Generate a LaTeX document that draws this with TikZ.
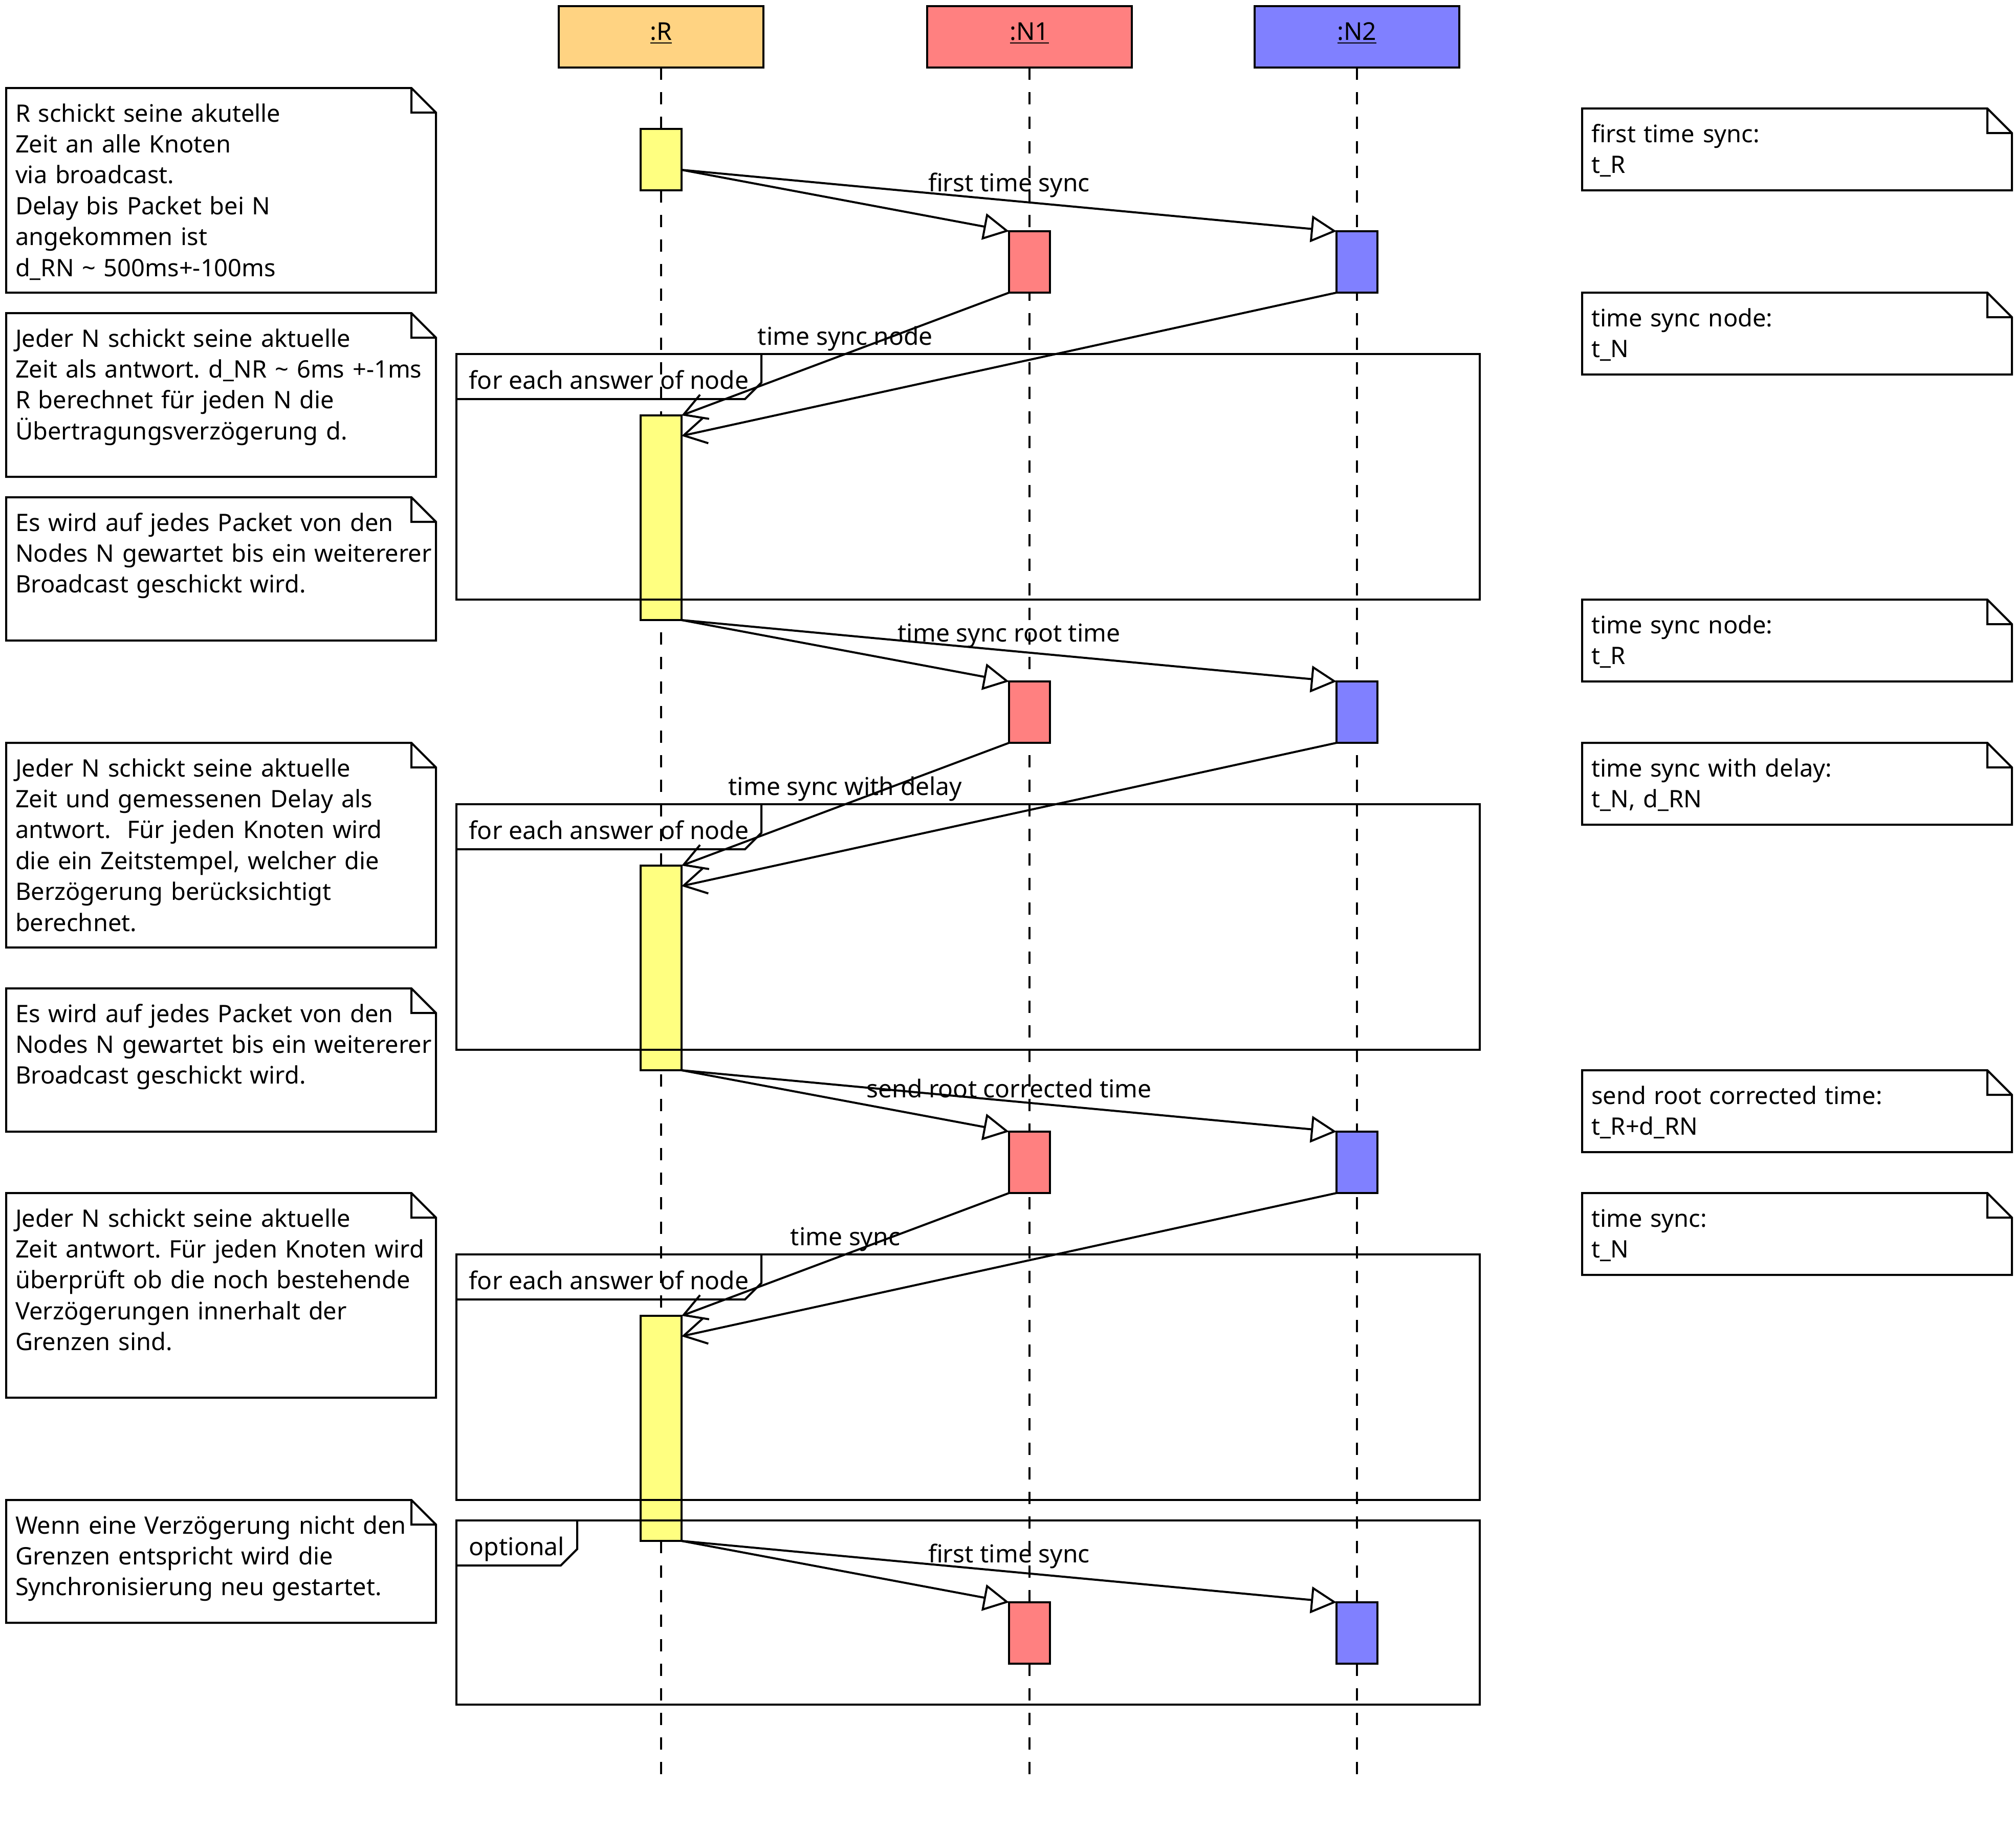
\documentclass[tikz,border=0pt]{standalone}
\usepackage{fontspec}
\setmainfont{Noto Sans}
\usetikzlibrary{positioning, arrows.meta}

\definecolor{headR}{HTML}{FFD382}
\definecolor{actR}{HTML}{FFFF80}
\definecolor{nodeA}{HTML}{FF8080}
\definecolor{nodeB}{HTML}{8080FF}

\frenchspacing

\begin{document}
\begin{tikzpicture}[
    x=1pt, y=-1pt,
    line width=1pt,
    font=\fontsize{12}{15.1}\selectfont,
    head/.style={draw, minimum width=100pt, minimum height=30pt, inner sep=0pt, outer sep=0pt,
        text height=8pt, text depth=5pt},
    act/.style={draw, minimum width=20pt, minimum height=#1, inner sep=0pt, outer sep=0pt, anchor=north},
    lifeline/.style={dash pattern=on 6pt off 6pt},
    note/.style={anchor=north west, text width=201pt, inner xsep=4.5pt, inner ysep=0pt, outer sep=0pt,
        text height=16.5pt, text depth=#1-16.5pt, font=\fontsize{11.75}{15.1}\selectfont},
    fragment/.style={draw, anchor=north west, minimum width=500pt, minimum height=#1, inner sep=0pt, outer sep=0pt},
    tab/.style={anchor=north west, minimum width=#1, minimum height=22pt, inner sep=0pt, outer sep=0pt,
        text height=12pt, text depth=0pt},
    call/.style={-{Triangle[open, length=12.5pt, width=13pt]}},
    reply/.style={-{Straight Barb[length=11pt, width=12.6pt]}},
    msg/.style={midway, above, inner sep=1pt},
]
\useasboundingbox (0,0) rectangle (985,895);

% Lifeline heads
\node[head, fill=headR, anchor=north] (R) at (323,3) {\underline{:R}};
\node[head, fill=nodeA, right=80pt of R] (N1) {\underline{:N1}};
\node[head, fill=nodeB, right=60pt of N1] (N2) {\underline{:N2}};
\coordinate (bottom) at (0,867);

\foreach \p in {R,N1,N2}
    \draw[lifeline] (\p.south) -- (\p.south |- bottom);

% Activation bars
\node[act=30pt,  fill=actR] (r1) at (323,63)  {};
\node[act=100pt, fill=actR] (r2) at (323,203) {};
\node[act=100pt, fill=actR] (r3) at (323,423) {};
\node[act=110pt, fill=actR] (r4) at (323,643) {};

\node[act=30pt, fill=nodeA] (a1) at (503,113) {};
\node[act=30pt, fill=nodeA] (a2) at (503,333) {};
\node[act=30pt, fill=nodeA] (a3) at (503,553) {};
\node[act=30pt, fill=nodeA] (a4) at (503,783) {};

\node[act=30pt, fill=nodeB] (b1) at (663,113) {};
\node[act=30pt, fill=nodeB] (b2) at (663,333) {};
\node[act=30pt, fill=nodeB] (b3) at (663,553) {};
\node[act=30pt, fill=nodeB] (b4) at (663,783) {};

% Combined fragments
\node[fragment=120pt] (f1) at (223,173) {};
\node[tab=149pt] (t1) at (f1.north west) {for each answer of node};
\node[fragment=120pt] (f2) at (223,393) {};
\node[tab=149pt] (t2) at (f2.north west) {for each answer of node};
\node[fragment=120pt] (f3) at (223,613) {};
\node[tab=149pt] (t3) at (f3.north west) {for each answer of node};
\node[fragment=90pt] (f4) at (223,743) {};
\node[tab=59pt] (t4) at (f4.north west) {optional};

\foreach \t in {t1,t2,t3,t4}
    \draw (\t.north east) -- ([yshift=-14pt]\t.north east) -- ([xshift=-8pt]\t.south east) -- (\t.south west);

% Messages
\draw[call] ([yshift=-20pt]r1.north east) -- (a1.north west);
\draw[call] ([yshift=-20pt]r1.north east) -- (b1.north west) node[msg] {first time sync};
\draw[reply] (a1.south west) -- (r2.north east) node[msg] {time sync node};
\draw[reply] (b1.south west) -- ([yshift=-10pt]r2.north east);

\draw[call] (r2.south east) -- (a2.north west);
\draw[call] (r2.south east) -- (b2.north west) node[msg] {time sync root time};
\draw[reply] (a2.south west) -- (r3.north east) node[msg] {time sync with delay};
\draw[reply] (b2.south west) -- ([yshift=-10pt]r3.north east);

\draw[call] (r3.south east) -- (a3.north west);
\draw[call] (r3.south east) -- (b3.north west) node[msg] {send root corrected time};
\draw[reply] (a3.south west) -- (r4.north east) node[msg] {time sync};
\draw[reply] (b3.south west) -- ([yshift=-10pt]r4.north east);

\draw[call] (r4.south east) -- (a4.north west);
\draw[call] (r4.south east) -- (b4.north west) node[msg] {first time sync};

% Notes, left column
\node[note=100pt] (nl1) at (3,43) {R schickt seine akutelle\\Zeit an alle Knoten\\via broadcast.\\Delay bis Packet bei N\\angekommen ist\\d\_RN \textasciitilde{} 500ms+-100ms};
\node[note=80pt] (nl2) at (3,153) {Jeder N schickt seine aktuelle\\Zeit als antwort. d\_NR \textasciitilde{} 6ms +-1ms\\R berechnet für jeden N die\\Übertragungsverzögerung d.};
\node[note=70pt] (nl3) at (3,243) {Es wird auf jedes Packet von den\\\mbox{Nodes N gewartet bis ein weitererer}\\Broadcast geschickt wird.};
\node[note=100pt] (nl4) at (3,363) {Jeder N schickt seine aktuelle\\Zeit und gemessenen Delay als\\antwort.\ \ Für jeden Knoten wird\\die ein Zeitstempel, welcher die\\Berzögerung berücksichtigt\\berechnet.};
\node[note=70pt] (nl5) at (3,483) {Es wird auf jedes Packet von den\\\mbox{Nodes N gewartet bis ein weitererer}\\Broadcast geschickt wird.};
\node[note=100pt] (nl6) at (3,583) {Jeder N schickt seine aktuelle\\Zeit antwort. Für jeden Knoten wird\\überprüft ob die noch bestehende\\Verzögerungen innerhalt der\\Grenzen sind.};
\node[note=60pt] (nl7) at (3,733) {Wenn eine Verzögerung nicht den\\Grenzen entspricht wird die\\Synchronisierung neu gestartet.};

% Notes, right column
\node[note=40pt] (nr1) at (773,53)  {first time sync:\\t\_R};
\node[note=40pt] (nr2) at (773,143) {time sync node:\\t\_N};
\node[note=40pt] (nr3) at (773,293) {time sync node:\\t\_R};
\node[note=40pt] (nr4) at (773,363) {time sync with delay:\\t\_N, d\_RN};
\node[note=40pt] (nr5) at (773,523) {send root corrected time:\\t\_R+d\_RN};
\node[note=40pt] (nr6) at (773,583) {time sync:\\t\_N};

\foreach \n in {nl1,nl2,nl3,nl4,nl5,nl6,nl7,nr1,nr2,nr3,nr4,nr5,nr6}
    \draw (\n.north west) -- ([xshift=-12pt]\n.north east) -- ([yshift=-12pt]\n.north east)
        -- (\n.south east) -- (\n.south west) -- cycle
        ([xshift=-12pt]\n.north east) |- ([yshift=-12pt]\n.north east);

\end{tikzpicture}
\end{document}
